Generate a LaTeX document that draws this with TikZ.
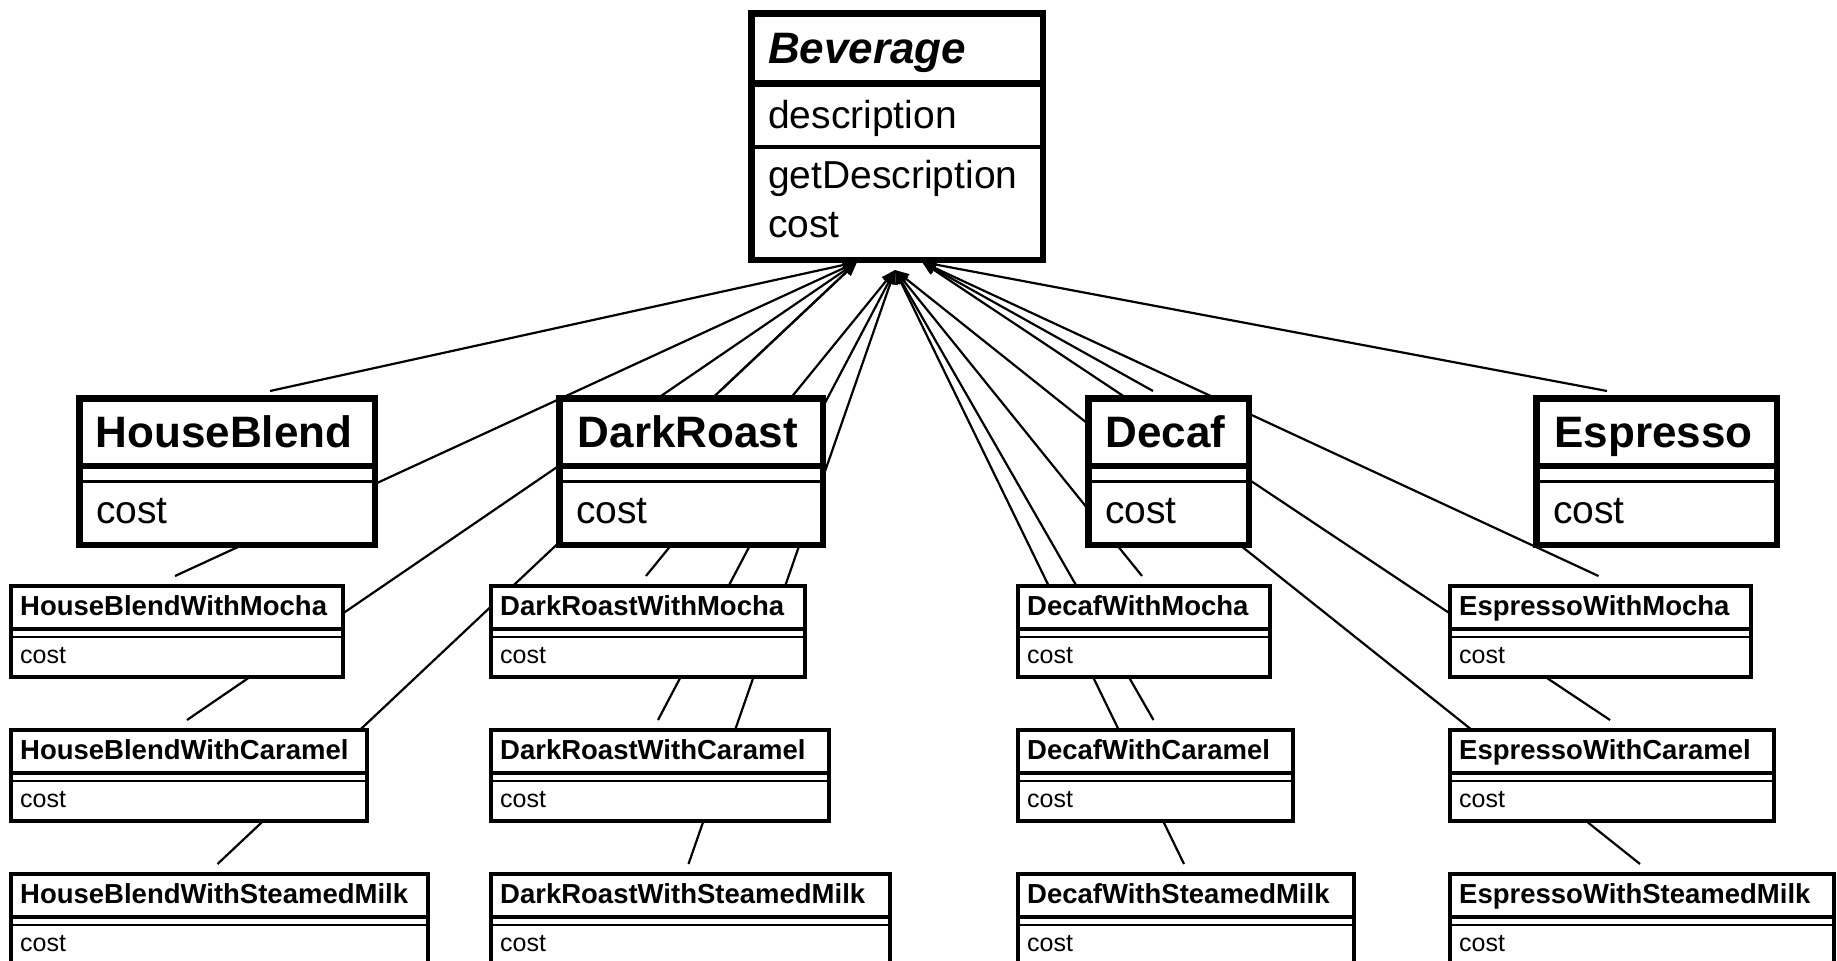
\documentclass[tikz,border=0pt]{standalone}
\usepackage{fontspec}
\setmainfont{Liberation Sans}
\usetikzlibrary{arrows.meta}
\pgfdeclarelayer{bg}
\pgfdeclarelayer{lines}
\pgfsetlayers{bg,lines,main}
\tikzset{
  conn/.style={line width=2.2pt, -{Triangle[length=14pt,width=11pt]}},
  bigbox/.style={draw, fill=white, line width=6.5pt, inner sep=0pt, anchor=north west, rectangle},
  smallbox/.style={draw, fill=white, line width=4pt, inner sep=0pt, anchor=north west, rectangle},
  bigtitle/.style={font=\bfseries\fontsize{44}{44}\selectfont, anchor=base, inner sep=0pt},
  bevtitle/.style={font=\bfseries\itshape\fontsize{44}{44}\selectfont, anchor=base west, inner sep=0pt},
  bigtext/.style={font=\fontsize{39}{39}\selectfont, anchor=base west, inner sep=0pt},
  smalltitle/.style={font=\bfseries\fontsize{27.5}{27.5}\selectfont, anchor=base west, inner sep=0pt},
  smalltext/.style={font=\fontsize{25}{25}\selectfont, anchor=base west, inner sep=0pt},
  thickdiv/.style={line width=6.5pt},
  thindiv/.style={line width=3.5pt},
  sthickdiv/.style={line width=4pt},
  sthindiv/.style={line width=2.5pt}
}
% #1 name, #2 x1, #3 y1, #4 x2, #5 title, #6 port x
\newcommand\bigclass[6]{%
  \pgfmathsetmacro\clw{#4-#2-6.5}%
  \node[bigbox, minimum width=\clw pt, minimum height=146.5pt] (#1) at ({#2+3.25},{#3+3.25}) {};
  \draw[thickdiv] ({#2+3},{#3+74}) -- ({#4-3},{#3+74});
  \draw[thindiv] ({#2+3},{#3+89.5}) -- ({#4-3},{#3+89.5});
  \node[bigtitle] (#1-t) at ({(#2+#4)/2},{#3+55}) {#5};
  \node[bigtext] (#1-c) at ({#2+23},{#3+131}) {cost};
  \coordinate (#1-port) at (#6,{#3-1});
}
% #1 name, #2 x1, #3 y1, #4 x2, #5 title
\newcommand\smallclass[5]{%
  \pgfmathsetmacro\clw{#4-#2-4}%
  \node[smallbox, minimum width=\clw pt, minimum height=91pt] (#1) at ({#2+2},{#3+2}) {};
  \draw[sthickdiv] ({#2+2},{#3+46.5}) -- ({#4-2},{#3+46.5});
  \draw[sthindiv] ({#2+2},{#3+55}) -- ({#4-2},{#3+55});
  \node[smalltitle] (#1-t) at ({#2+13},{#3+33}) {#5};
  \node[smalltext] (#1-c) at ({#2+13},{#3+81}) {cost};
  \coordinate (#1-port) at ({(#2+#4)/2},{#3-6});
}
\begin{document}
\begin{tikzpicture}[x=1pt,y=-1pt]
\useasboundingbox (0,0) rectangle (1837,961);
\begin{pgfonlayer}{bg}
  \fill[white] (0,0) rectangle (1837,961);
\end{pgfonlayer}

% Beverage
\node[bigbox, minimum width=291.5pt, minimum height=246.5pt] (bev) at (748.25,10.25) {};
\draw[thickdiv] (748,83.5) -- (1040,83.5);
\draw[thindiv] (748,147) -- (1040,147);
\node[bevtitle] (bev-t) at (768,63) {Beverage};
\node[bigtext] (bev-a) at (768,128) {description};
\node[bigtext] (bev-m1) at (768,188) {getDescription};
\node[bigtext] (bev-m2) at (768,237) {cost};
\coordinate (bevL) at (857,262);
\coordinate (bevC) at (895,270);
\coordinate (bevR) at (922,262);

% row 1
\bigclass{hb}{73}{392}{375}{HouseBlend}{270}
\bigclass{dr}{553}{392}{823}{DarkRoast}{720}
\bigclass{de}{1082}{392}{1249}{Decaf}{1153}
\bigclass{es}{1530}{392}{1777}{Espresso}{1607}

% row 2
\smallclass{hbm}{7}{582}{343}{HouseBlendWithMocha}
\smallclass{drm}{487}{582}{805}{DarkRoastWithMocha}
\smallclass{dem}{1014}{582}{1270}{DecafWithMocha}
\smallclass{esm}{1446}{582}{1751}{EspressoWithMocha}

% row 3
\smallclass{hbc}{7}{726}{367}{HouseBlendWithCaramel}
\smallclass{drc}{487}{726}{829}{DarkRoastWithCaramel}
\smallclass{dec}{1014}{726}{1293}{DecafWithCaramel}
\smallclass{esc}{1446}{726}{1774}{EspressoWithCaramel}

% row 4
\smallclass{hbs}{7}{870}{428}{HouseBlendWithSteamedMilk}
\smallclass{drs}{487}{870}{890}{DarkRoastWithSteamedMilk}
\smallclass{des}{1014}{870}{1354}{DecafWithSteamedMilk}
\smallclass{ess}{1446}{870}{1834}{EspressoWithSteamedMilk}

\begin{pgfonlayer}{lines}
  \foreach \n in {hb,hbm,hbc,hbs,dr} \draw[conn] (\n-port) -- (bevL);
  \foreach \n in {drm,drc,drs,dem,dec,des,ess} \draw[conn] (\n-port) -- (bevC);
  \foreach \n in {de,es,esm,esc} \draw[conn] (\n-port) -- (bevR);
\end{pgfonlayer}
\end{tikzpicture}
\end{document}
